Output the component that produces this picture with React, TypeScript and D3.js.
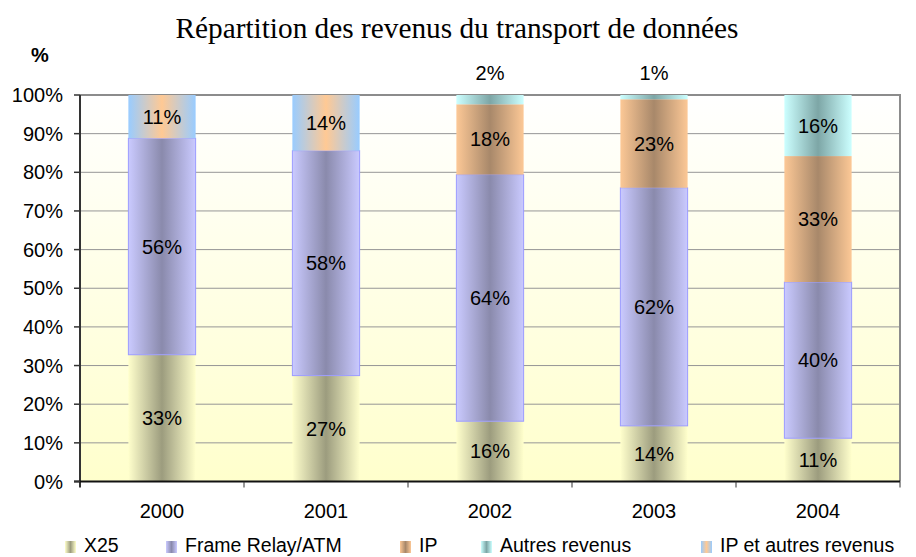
import React from "react";
import * as d3 from "d3";

const years = ["2000", "2001", "2002", "2003", "2004"];
const seriesNames = ["X25", "Frame Relay/ATM", "IP", "Autres revenus", "IP et autres revenus"];
const x25 = [32.8, 27.4, 15.6, 14.4, 11.2];
const frameRelay = [56.0, 58.2, 63.8, 61.6, 40.4];
const ip = [0, 0, 18.2, 22.9, 32.6];
const autres = [0, 0, 2.4, 1.1, 15.8];
const ipAutres = [11.2, 14.4, 0, 0, 0];
const yTicks = [0, 10, 20, 30, 40, 50, 60, 70, 80, 90, 100];

const W = 916, H = 557;
const M = { left: 80, right: 900, top: 95, bottom: 481.5 };

const grads = [
  { id: "g0", edge: "#FFFFCC", mid: "#9C9C7E", stroke: "none" },
  { id: "g1", edge: "#CACAFF", mid: "#8A8AAC", stroke: "#9C9CFF" },
  { id: "g2", edge: "#FCC896", mid: "#A8886A", stroke: "none" },
  { id: "g3", edge: "#CCFFFF", mid: "#7DA6A6", stroke: "none" },
  { id: "g4", edge: "#99CCFF", mid: "#FFC994", stroke: "none" },
];

const legendX = [65, 166, 400, 481, 701];

export default function App() {
  const values = [x25, frameRelay, ip, autres, ipAutres];
  const rows = years.map((y, i) => {
    const r: any = { year: y };
    seriesNames.forEach((s, k) => (r[s] = values[k][i]));
    return r;
  });
  const stack = d3.stack<any>().keys(seriesNames)(rows);
  const x = d3.scaleBand().domain(years).range([M.left, M.right]).paddingInner(0).paddingOuter(0);
  const y = d3.scaleLinear().domain([0, 100]).range([M.bottom, M.top]);
  const bw = x.bandwidth() * 0.41;
  const font = "'Liberation Sans', Arial, sans-serif";

  return (
    <svg width={W} height={H} style={{ position: "fixed", left: 0, top: 0, background: "#fff" }}>
      <defs>
        {grads.map((g) => (
          <linearGradient key={g.id} id={g.id} x1="0" x2="1" y1="0" y2="0">
            <stop offset="0" stopColor={g.edge} />
            <stop offset="0.5" stopColor={g.mid} />
            <stop offset="1" stopColor={g.edge} />
          </linearGradient>
        ))}
        <linearGradient id="bg" x1="0" x2="0" y1="0" y2="1">
          <stop offset="0" stopColor="#FFFFFF" />
          <stop offset="1" stopColor="#FFFFCC" />
        </linearGradient>
      </defs>
      <text x={457} y={38} textAnchor="middle" fontFamily="'Liberation Serif', 'Times New Roman', serif" fontSize={29.3}>
        Répartition des revenus du transport de données
      </text>
      <text x={40} y={62} textAnchor="middle" fontFamily={font} fontSize={20} fontWeight="bold">%</text>
      <rect x={M.left} y={M.top} width={M.right - M.left} height={M.bottom - M.top} fill="url(#bg)" />
      {yTicks.filter((t) => t > 0 && t < 100).map((t) => (
        <line key={t} x1={M.left} x2={M.right} y1={y(t)} y2={y(t)} stroke="#969696" strokeWidth={1} />
      ))}
      <path d={`M${M.left},${M.top}H${M.right}V${M.bottom}`} fill="none" stroke="#8C8C8C" strokeWidth={2} />
      {stack.map((layer, k) =>
        layer.map((d, i) => {
          const v = d[1] - d[0];
          if (v <= 0) return null;
          const xc = x(years[i])! + x.bandwidth() / 2;
          return (
            <rect key={`${k}-${i}`} x={xc - bw / 2} y={y(d[1])} width={bw} height={y(d[0]) - y(d[1])}
              fill={`url(#${grads[k].id})`} stroke={grads[k].stroke} strokeWidth={1} />
          );
        })
      )}
      {stack.map((layer, k) =>
        layer.map((d, i) => {
          const v = d[1] - d[0];
          if (v <= 0) return null;
          const xc = x(years[i])! + x.bandwidth() / 2;
          const yc = v < 5 ? M.top - 22 : (y(d[0]) + y(d[1])) / 2;
          return (
            <text key={`l${k}-${i}`} x={xc} y={yc} textAnchor="middle" dominantBaseline="central"
              fontFamily={font} fontSize={20}>
              {Math.round(v)}%
            </text>
          );
        })
      )}
      <line x1={M.left} x2={M.left} y1={M.top} y2={M.bottom + 6} stroke="#333" strokeWidth={2} />
      <line x1={M.left - 6} x2={M.right} y1={M.bottom} y2={M.bottom} stroke="#111" strokeWidth={2} />
      {yTicks.map((t) => (
        <g key={t}>
          <line x1={M.left - 6} x2={M.left} y1={y(t)} y2={y(t)} stroke="#333" strokeWidth={1.5} />
          <text x={M.left - 17} y={y(t)} textAnchor="end" dominantBaseline="central" fontFamily={font} fontSize={20}>
            {t}%
          </text>
        </g>
      ))}
      {years.map((yr, i) => (
        <g key={yr}>
          <line x1={x(yr)! + x.bandwidth()} x2={x(yr)! + x.bandwidth()} y1={M.bottom} y2={M.bottom + 6} stroke="#333" strokeWidth={1} />
          <text x={x(yr)! + x.bandwidth() / 2} y={518} textAnchor="middle" fontFamily={font} fontSize={20}>{yr}</text>
        </g>
      ))}
      {seriesNames.map((s, k) => (
        <g key={s}>
          <rect x={legendX[k]} y={541} width={11} height={12} fill={`url(#${grads[k].id})`} />
          <text x={legendX[k] + 19} y={552} fontFamily={font} fontSize={19.5}>{s}</text>
        </g>
      ))}
    </svg>
  );
}
